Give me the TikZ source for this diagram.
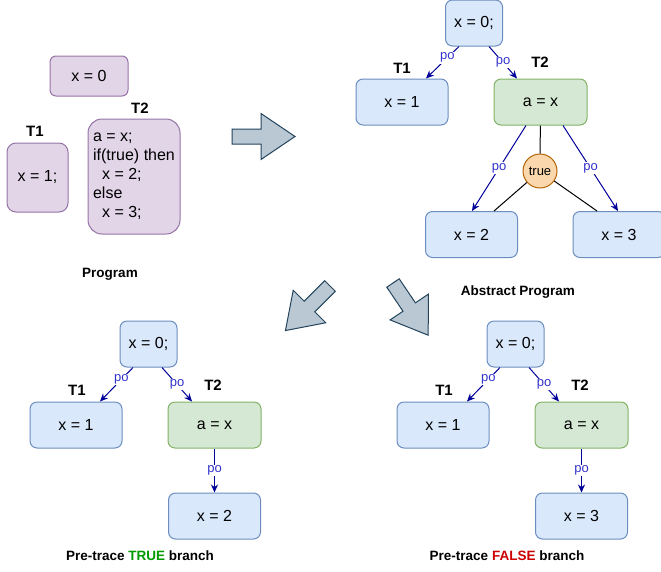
\documentclass[tikz,border=0pt]{standalone}
\usepackage{fontspec}
\setmainfont{Liberation Sans}
\usetikzlibrary{arrows.meta}

\definecolor{bluefill}{HTML}{DAE8FC}
\definecolor{bluedraw}{HTML}{6C8EBF}
\definecolor{greenfill}{HTML}{D5E8D4}
\definecolor{greendraw}{HTML}{82B366}
\definecolor{purplefill}{HTML}{E1D5E7}
\definecolor{purpledraw}{HTML}{9673A6}
\definecolor{orangefill}{HTML}{FAD7AC}
\definecolor{orangedraw}{HTML}{B46504}
\definecolor{arrowfill}{HTML}{BAC8D3}
\definecolor{arrowdraw}{HTML}{23445D}
\definecolor{poline}{HTML}{000099}
\definecolor{potext}{HTML}{3333CC}
\definecolor{truegreen}{HTML}{009900}
\definecolor{falsered}{HTML}{CC0000}

\begin{document}
\begin{tikzpicture}[x=1pt, y=-1pt, line width=1pt,
	box/.style={rectangle, rounded corners=7pt, draw=bluedraw, fill=bluefill, minimum width=92pt, minimum height=46pt, inner sep=0pt, font=\fontsize{16}{19}\selectfont},
	assign/.style={box, draw=greendraw, fill=greenfill, minimum width=93pt},
	init/.style={box, minimum width=57pt},
	prog/.style={rectangle, draw=purpledraw, fill=purplefill, inner sep=0pt, font=\fontsize{16}{19}\selectfont},
	guard/.style={circle, draw=orangedraw, fill=orangefill, minimum size=34pt, inner sep=0pt, font=\fontsize{13}{15}\selectfont},
	thread/.style={font=\bfseries\fontsize{15}{18}\selectfont},
	caption/.style={font=\bfseries\fontsize{13.5}{16}\selectfont},
	po/.style={draw=poline, -{Stealth[length=8pt, width=7pt]}},
	polabel/.style={fill=white, text=potext, inner sep=1pt, font=\fontsize{13}{15}\selectfont},
	branch/.style={draw=black},
	fatarrow/.style={draw=arrowdraw, fill=arrowfill, line join=miter}]

	\useasboundingbox (0,0) rectangle (661,571);

	% program
	\node[prog, rounded corners=6pt, minimum width=78pt, minimum height=40pt] (p0) at (89,76) {x = 0};
	\node[prog, rounded corners=9pt, minimum width=61pt, minimum height=69pt] (p1) at (37.5,177.5) {x = 1;};
	\node[prog, rounded corners=14pt, minimum width=92pt, minimum height=115pt, align=left] (p2) at (134,176.5)
		{a = x;\\ if(true) then\\ \hspace*{9pt}x = 2;\\ else\\ \hspace*{9pt}x = 3;};
	\node[thread] (pt1) at (35,131) {T1};
	\node[thread] (pt2) at (140,108) {T2};
	\node[caption] (cprog) at (110,274) {Program};

	% big arrows
	\foreach \x/\y/\a in {232/136.5/0, 330/286/-135, 393/283/-56}
		\draw[fatarrow, shift={(\x,\y)}, rotate=\a] (0,-7.5) -- (29,-7.5) -- (29,-23) -- (63,0) -- (29,23) -- (29,7.5) -- (0,7.5) -- cycle;

	% abstract program
	\node[init] (a0) at (474,23) {x = 0;};
	\node[box] (a1) at (402,102) {x = 1};
	\node[assign] (a2) at (540.5,102) {a = x};
	\node[guard] (g) at (540,171) {true};
	\node[box] (a3) at (471.5,234.5) {x = 2};
	\node[box] (a4) at (619,234.5) {x = 3};
	\node[thread] (at1) at (402,68) {T1};
	\node[thread] (at2) at (540,62) {T2};
	\node[caption] (cabs) at (518,292) {Abstract Program};

	\draw[po] ([xshift=-15pt]a0.south) -- node[polabel, pos=0.35] {po} ([xshift=24pt]a1.north);
	\draw[po] ([xshift=15pt]a0.south) -- node[polabel, pos=0.5] {po} ([xshift=-23.5pt]a2.north);
	\draw[po] ([xshift=-14.5pt]a2.south) -- node[polabel, pos=0.5] {po} ([xshift=0.5pt]a3.north);
	\draw[po] ([xshift=22.5pt]a2.south) -- node[polabel, pos=0.5] {po} ([xshift=-1pt]a4.north);
	\draw[branch] (a2) -- (g);
	\draw[branch] (g) -- ([xshift=22.5pt]a3.north);
	\draw[branch] (g) -- ([xshift=-22pt]a4.north);

	% true branch
	\node[init] (t0) at (148.5,344) {x = 0;};
	\node[box] (t1) at (76,425) {x = 1};
	\node[assign] (t2) at (214.5,425) {a = x};
	\node[box] (t3) at (214.5,516) {x = 2};
	\node[thread] (tt1) at (77,390) {T1};
	\node[thread] (tt2) at (213,385) {T2};
	\node[caption] (ctrue) at (140,556) {Pre-trace \textcolor{truegreen}{TRUE} branch};

	\draw[po] ([xshift=-15.5pt]t0.south) -- node[polabel, pos=0.35] {po} ([xshift=24pt]t1.north);
	\draw[po] ([xshift=13.5pt]t0.south) -- node[polabel, pos=0.5] {po} ([xshift=-22.5pt]t2.north);
	\draw[po] (t2) -- node[polabel] {po} (t3);

	% false branch
	\node[init] (f0) at (515.5,344) {x = 0;};
	\node[box] (f1) at (443,425) {x = 1};
	\node[assign] (f2) at (581.5,425) {a = x};
	\node[box] (f3) at (581.5,516) {x = 3};
	\node[thread] (ft1) at (444,390) {T1};
	\node[thread] (ft2) at (580,385) {T2};
	\node[caption] (cfalse) at (507,556) {Pre-trace \textcolor{falsered}{FALSE} branch};

	\draw[po] ([xshift=-15.5pt]f0.south) -- node[polabel, pos=0.35] {po} ([xshift=24pt]f1.north);
	\draw[po] ([xshift=13.5pt]f0.south) -- node[polabel, pos=0.5] {po} ([xshift=-22.5pt]f2.north);
	\draw[po] (f2) -- node[polabel] {po} (f3);

\end{tikzpicture}
\end{document}
